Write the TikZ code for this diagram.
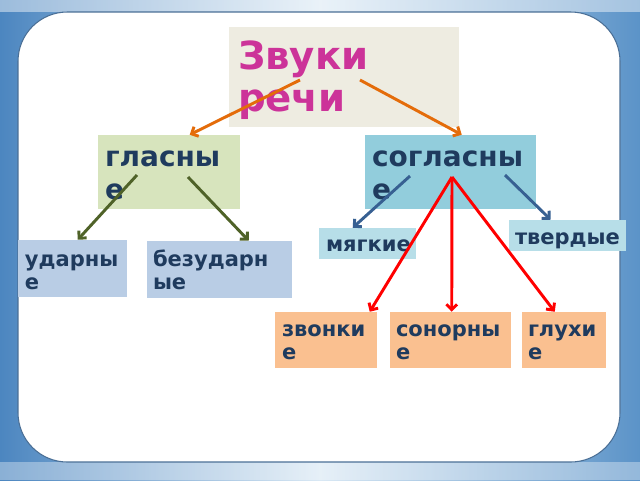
\documentclass[tikz,border=0pt]{standalone}
\usepackage{fontspec}
\setmainfont{DejaVu Sans}
\usetikzlibrary{arrows.meta,fit,calc}
\definecolor{bgL}{HTML}{4C86C0}
\definecolor{bgM}{HTML}{D9E8F4}
\definecolor{bgR}{HTML}{5B93C8}
\definecolor{frame}{HTML}{4A6F96}
\definecolor{titlefill}{HTML}{EEECE1}
\definecolor{titletext}{HTML}{CC3399}
\definecolor{glfill}{HTML}{D7E4BD}
\definecolor{sgfill}{HTML}{92CDDC}
\definecolor{udfill}{HTML}{B9CDE5}
\definecolor{mtfill}{HTML}{B7DEE8}
\definecolor{zvfill}{HTML}{FAC090}
\definecolor{txt}{HTML}{1F3B5E}
\definecolor{arrO}{HTML}{E46C0A}
\definecolor{arrG}{HTML}{4F6228}
\definecolor{arrB}{HTML}{376092}
\definecolor{arrR}{HTML}{FF0000}
\tikzset{
  box/.style={inner sep=0pt, draw=none},
  lbl/.style={anchor=base west, inner sep=0pt, align=left, text=txt},
  bigl/.style={lbl, font={\bfseries\fontsize{21}{24.75}\selectfont}},
  smalll/.style={lbl, font={\bfseries\fontsize{15.75}{17.25}\selectfont}},
  conn/.style={line width=2.2pt, -{Straight Barb[length=4pt,width=8pt]}},
}
\begin{document}
\begin{tikzpicture}[x=0.75pt,y=-0.75pt]
\useasboundingbox (0,0) rectangle (640,480);
% background
\shade[left color=bgL, right color=bgR, middle color=bgM] (0,0) rectangle (640,480);
\fill[white,opacity=0.45] (0,0) rectangle (640,12);
\fill[white,opacity=0.35] (0,462) rectangle (640,480);
\draw[frame, line width=0.8pt, fill=white, rounded corners=37pt] (18,12) rectangle (620,462);
% boxes
\node[box, fill=titlefill, fit={(229,27) (459,127)}] (zr) {};
\node[box, fill=glfill, fit={(98,135) (240,209)}] (gl) {};
\node[box, fill=sgfill, fit={(365,135) (536,209)}] (sg) {};
\node[box, fill=udfill, fit={(18,240) (127,297)}] (ud) {};
\node[box, fill=udfill, fit={(147,241) (292,298)}] (bz) {};
\node[box, fill=mtfill, fit={(319,228) (416,259)}] (mg) {};
\node[box, fill=mtfill, fit={(509,220) (626,251)}] (tv) {};
\node[box, fill=zvfill, fit={(275,312) (377,368)}] (zv) {};
\node[box, fill=zvfill, fit={(390,312) (511,368)}] (sn) {};
\node[box, fill=zvfill, fit={(522,312) (606,368)}] (gx) {};
% texts (base anchor = baseline of the last line)
\node[lbl, text=titletext, font={\bfseries\fontsize{29}{31.5}\selectfont}] (zrt) at ($(zr.north west)+(9,85)$) {Звуки\\речи};
\node[bigl] (glt) at ($(gl.north west)+(7,65)$) {гласны\\е};
\node[bigl] (sgt) at ($(sg.north west)+(7,65)$) {согласны\\е};
\node[smalll] (udt) at ($(ud.north west)+(7,50)$) {ударны\\е};
\node[smalll] (bzt) at ($(bz.north west)+(6,49)$) {безударн\\ые};
\node[smalll] (mgt) at ($(mg.north west)+(7,24)$) {мягкие};
\node[smalll] (tvt) at ($(tv.north west)+(6,25)$) {твердые};
\node[smalll] (zvt) at ($(zv.north west)+(7,48)$) {звонки\\е};
\node[smalll] (snt) at ($(sn.north west)+(6,48)$) {сонорны\\е};
\node[smalll] (gxt) at ($(gx.north west)+(6,48)$) {глухи\\е};
% start points
\coordinate (o1) at (300,80);
\coordinate (o2) at (360,80);
\coordinate (g1) at (137,175);
\coordinate (g2) at (188,177);
\coordinate (b1) at (410,176);
\coordinate (b2) at (505,175);
\coordinate (r0) at (452,177);
% connectors
\draw[conn, arrO] (o1) -- ($(gl.north west)+(92,0)$);
\draw[conn, arrO] (o2) -- ($(sg.north west)+(97,0)$);
\draw[conn, arrG] (g1) -- ($(ud.north west)+(60,0)$);
\draw[conn, arrG] (g2) -- ($(bz.north west)+(102,0)$);
\draw[conn, arrB] (b1) -- ($(mg.north west)+(34,0)$);
\draw[conn, arrB] (b2) -- ($(tv.north west)+(42,0)$);
\draw[conn, arrR] (r0) -- ($(zv.north west)+(95,0)$);
\draw[conn, arrR] (r0) -- ($(sn.north west)+(62,0)$);
\draw[conn, arrR] (r0) -- ($(gx.north west)+(33,0)$);
\end{tikzpicture}
\end{document}
